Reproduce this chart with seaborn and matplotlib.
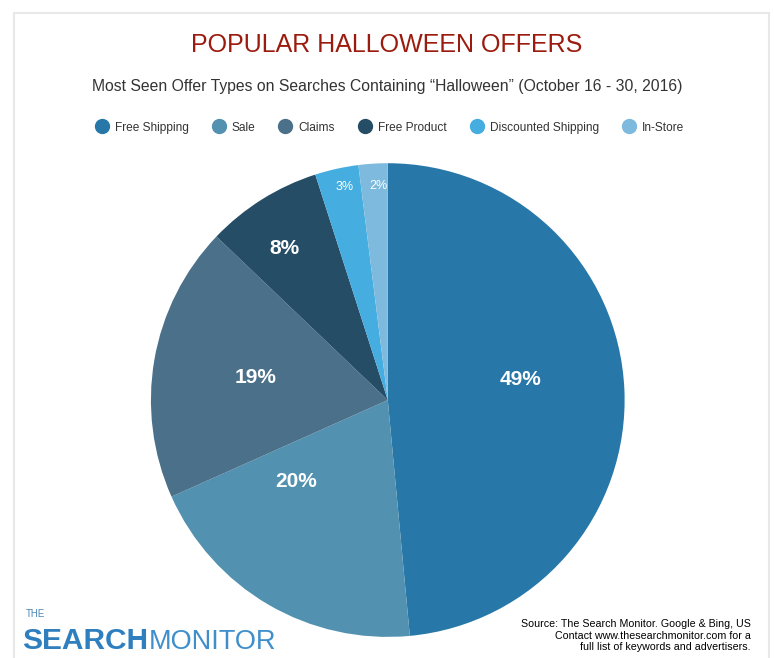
import seaborn as sns
import matplotlib.pyplot as plt
import numpy as np
from matplotlib.lines import Line2D
from matplotlib.patches import Rectangle

# Popular Halloween offers - pie of offer types

offer_types = ["Free Shipping", "Sale", "Claims", "Free Product", "Discounted Shipping", "In-Store"]
shares = [49, 20, 19, 8, 3, 2]
share_labels = ["49%", "20%", "19%", "8%", "3%", "2%"]
offer_colors = ["#2778a8", "#5291b0", "#4b7089", "#264d66", "#45ade0", "#7dbadd"]

sns.set_theme(style="white")
plt.rcParams["font.family"] = ["Liberation Sans", "DejaVu Sans"]
palette = sns.color_palette(offer_colors)

fig = plt.figure(figsize=(7.74, 6.58), dpi=100)
fig.patch.set_facecolor("white")
fig.patches.append(Rectangle((0.018, -0.02), 0.975, 1.0, transform=fig.transFigure,
                             facecolor="none", edgecolor="#e8e8e8", lw=1.5))

ax = fig.add_axes([0.195, 0.032, 0.612, 0.720])
wedges, _ = ax.pie(shares, colors=palette, startangle=90, counterclock=False,
                   wedgeprops=dict(linewidth=0))
ax.set_xlim(-1, 1)
ax.set_ylim(-1, 1)
ax.set_aspect("equal")
ax.axis("off")

# label placement: radius and small angle nudge per slice
label_radius = [0.565, 0.52, 0.565, 0.775, 0.92, 0.905]
label_nudge = [6, -18, 0, 2, -1, -1]
for w, lab, r, d, v in zip(wedges, share_labels, label_radius, label_nudge, shares):
    mid = np.deg2rad((w.theta1 + w.theta2) / 2 + d)
    big = v >= 8
    ax.text(r * np.cos(mid), r * np.sin(mid), lab,
            ha="center", va="center", color="white",
            fontsize=15 if big else 9, fontweight="bold" if big else "normal")

fig.text(0.5, 0.932, "POPULAR HALLOWEEN OFFERS", ha="center", va="center",
         color="#9b1b0e", fontsize=18)
fig.text(0.5, 0.869, "Most Seen Offer Types on Searches Containing \u201cHalloween\u201d (October 16 - 30, 2016)",
         ha="center", va="center", color="#333333", fontsize=11.3)

handles = [Line2D([0], [0], marker="o", linestyle="", markersize=10,
                  markerfacecolor=c, markeredgecolor=c) for c in palette]
fig.legend(handles, offer_types, loc="center", bbox_to_anchor=(0.5, 0.806), ncol=6,
           frameon=False, fontsize=8.6, handletextpad=0.1, columnspacing=1.5,
           labelcolor="#333333")

# logo
fig.text(0.033, 0.062, "THE", color="#4d87b8", fontsize=7)
logo = fig.text(0.029, 0.014, "SEARCH", color="#2f7fbf", fontsize=21.5, fontweight="bold")
plt.annotate("MONITOR", xy=(1, 0), xycoords=logo, color="#3f8fcc", fontsize=19.5,
             va="bottom", ha="left")

fig.text(0.970, 0.034, "Source: The Search Monitor. Google & Bing, US\n"
         "Contact www.thesearchmonitor.com for a\nfull list of keywords and advertisers.",
         ha="right", va="center", fontsize=7.7, linespacing=1.2, color="black")

fig.savefig("out.png", dpi=100)
